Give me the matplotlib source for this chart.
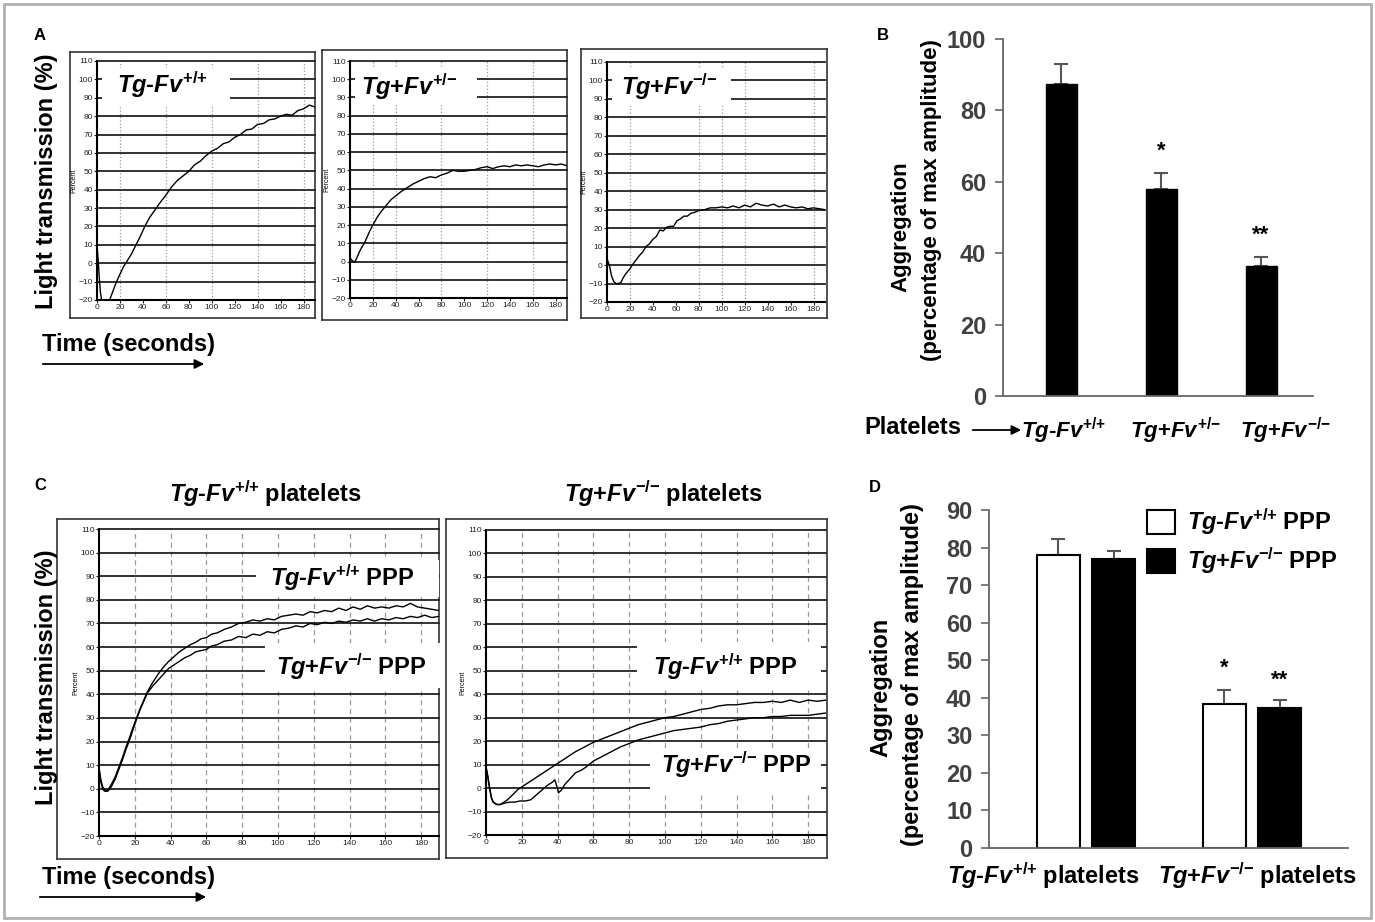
import numpy as np
import matplotlib.pyplot as plt
from matplotlib.patches import Rectangle, Patch, FancyArrowPatch
from matplotlib.transforms import ScaledTranslation

plt.rcParams["font.family"] = "Liberation Sans"
plt.rcParams["mathtext.fontset"] = "custom"
plt.rcParams["mathtext.it"] = "Liberation Sans:italic:bold"
plt.rcParams["mathtext.rm"] = "Liberation Sans:bold"
plt.rcParams["mathtext.bf"] = "Liberation Sans:bold"

W, H = 1375, 922

# genotype labels
WT = r"$Tg$-$Fv^{{+}/{+}}$"
HET = r"$Tg$+$Fv^{{+}/{-}}$"
KO = r"$Tg$+$Fv^{{-}/{-}}$"
GAP = r"$\;$"

# ---- panel A tracings (time s, % light transmission) ----
a1_t = [0, 1, 2, 3, 4, 5, 8, 11, 14, 17, 20, 23, 26, 30, 34, 38, 42, 46, 50,
        55, 60, 65, 70, 75, 80, 85, 90, 95, 100, 105, 110, 115, 120, 125, 130,
        135, 140, 145, 150, 155, 160, 165, 170, 175, 180, 185, 190]
a1_y = [10, 2, -8, -16, -20, -20, -20, -20, -15, -10, -6, -2, 1, 5, 10, 15, 20.5, 25, 28.5,
        33, 37, 41.5, 45, 47.5, 50, 53.5, 55.5, 58.5, 61, 62.5, 65, 66, 68.5, 70, 72.5,
        73, 75.5, 76, 78, 78.5, 80, 81, 80.5, 83, 84, 86, 85]

a2_t = [0, 2, 4, 6, 8, 10, 12.5, 15, 17.5, 20, 24, 28, 32, 36, 40, 45, 50, 55, 60,
        65, 70, 75, 80, 85, 90, 95, 100, 105, 110, 115, 120, 125, 130, 135, 140,
        145, 150, 155, 160, 165, 170, 175, 180, 185, 190]
a2_y = [2, 0.5, -0.5, 2, 5, 7.5, 10, 13.5, 17, 20, 24.5, 28, 31, 34, 36, 38.5, 40.5, 42.5, 44,
        45.5, 46.5, 46, 47.5, 48.5, 50, 49.5, 49.5, 50, 50.5, 51.5, 52, 51, 52, 52.5, 52,
        53, 52.5, 53, 52.5, 52, 53, 53.5, 53, 53.5, 52.5]

a3_t = [0, 2, 4, 6, 8, 10, 12, 14, 16, 18, 20, 22, 25, 28, 31, 34, 37, 40, 43, 46,
        49, 52, 55, 58, 61, 64, 67, 70, 73, 76, 80, 85, 90, 95, 100, 105, 110, 115,
        120, 125, 130, 135, 140, 145, 150, 155, 160, 165, 170, 175, 180, 185, 190]
a3_y = [3.5, 0, -6, -9, -10, -10, -9.5, -7, -5, -3.5, -2, 0, 2.5, 5, 7, 10, 11.5, 14, 15.5, 19,
        18.5, 20.5, 21, 21, 24, 25, 26.5, 26.5, 28, 28.5, 29.5, 30, 31, 31, 31.5, 31, 32, 31,
        32.5, 31.5, 33.5, 32.5, 32, 33, 31.5, 32.5, 31.5, 31, 31.5, 30.5, 31, 30.5, 30]

# ---- panel B ----
b_groups = [WT, HET, KO]
b_mean = [87.5, 58, 36.5]
b_err = [5.5, 4.5, 2.5]
b_stars = ["", "*", "**"]

# ---- panel C tracings ----
c1_t = [0, 1, 2, 3, 4, 5, 7, 9, 11, 13, 15, 17, 19, 21, 23, 25, 27, 30, 33, 36, 39,
        42, 45, 48, 51, 54, 57, 60, 63, 66, 70, 74, 78, 82, 86, 90, 94, 98, 102, 106,
        110, 114, 118, 122, 126, 130, 134, 138, 142, 146, 150, 154, 158, 162, 166,
        170, 174, 178, 182, 186, 190]
c1_wt_ppp = [8, 3, 0, -1, -1, -0.5, 2, 5, 9, 13, 17.5, 21.5, 26, 30, 34, 37.5, 41, 45, 48.5, 51.5, 54,
             56, 58, 59.5, 61, 62, 63.5, 64, 65.5, 66, 67.5, 68.5, 70, 70.5, 71.5, 71, 72, 71.5, 73, 73.5,
             74, 73.5, 75, 74.5, 75.5, 75, 76.5, 75.5, 77, 76, 77.5, 76.5, 77, 76.5, 77.5,
             77, 78.5, 77, 76.5, 76, 75.5]
c1_ko_ppp = [9, 4, 1, -0.5, -1, -1, 1, 4, 8, 12, 16.5, 20.5, 25, 29.5, 33.5, 37, 40.5, 43.5, 46, 48.5, 51,
             52.5, 54, 55.5, 56.5, 58, 58.5, 59, 60.5, 61, 62.5, 63, 64.5, 64, 65.5, 65, 66.5, 66, 67.5, 68,
             69, 68.5, 70, 69.5, 70.5, 70, 71, 70.5, 71.5, 71, 72, 71, 72, 71.5, 72.5,
             72, 73, 72.5, 73.5, 72.5, 73]

c2_wt_t = [0, 1, 2, 3, 4, 6, 8, 10, 12, 14, 16, 18, 20, 23, 26, 30, 34, 38, 42, 46, 50,
           55, 60, 65, 70, 75, 80, 85, 90, 95, 100, 105, 110, 115, 120, 125, 130, 135,
           140, 145, 150, 155, 160, 165, 170, 175, 180, 185, 190]
c2_wt_ppp = [9, 5, 0, -4, -6, -7, -7, -6, -5, -3.5, -2, -0.5, 0.5, 2, 3.5, 5.5, 7.5, 9.5, 11.5, 13.5, 15.5,
             17.5, 19.5, 21, 22.5, 24, 25.5, 27, 28, 29, 30, 30.5, 31.5, 32.5, 33.5, 34, 35, 35.5,
             35.5, 36, 36.5, 36.5, 37, 36.5, 37.5, 36.5, 37.5, 37, 37.5]
c2_ko_t = [0, 1, 2, 3, 4, 6, 8, 10, 13, 16, 19, 22, 25, 28, 31, 34, 37, 38.5, 39.5, 40.5,
           42, 44, 47, 50, 53, 56, 60, 65, 70, 75, 80, 85, 90, 95, 100, 105, 110, 115,
           120, 125, 130, 135, 140, 145, 150, 155, 160, 165, 170, 175, 180, 185, 190]
c2_ko_ppp = [9, 5, 0, -4, -6, -7, -7, -6.5, -6, -6, -5.5, -5.5, -5, -3, -1, 1, 2.5, 3.5, 1, -2,
             -1, 1.5, 4, 6.5, 7.5, 9, 11.5, 13.5, 15.5, 17.5, 19, 20.5, 21.5, 22.5, 23.5, 24.5, 25, 25.5,
             26, 27, 27.5, 28.5, 29, 29.5, 30, 30, 30.5, 30.5, 31, 31, 31, 31.5, 32]

# ---- panel D ----
d_groups = [WT + GAP + "platelets", KO + GAP + "platelets"]
d_wt_ppp = [78, 38.3]
d_wt_err = [4.3, 3.7]
d_ko_ppp = [77, 37.2]
d_ko_err = [2.2, 2.1]
d_stars_wt = ["", "*"]
d_stars_ko = ["", "**"]


def px_rect(l, t, r, b):
    return [l / W, 1 - b / H, (r - l) / W, (b - t) / H]


def ftext(x, y, s, **kw):
    fig.text(x / W, 1 - y / H, s, **kw)


def arrow(x0, x1, y):
    fig.add_artist(FancyArrowPatch((x0 / W, 1 - y / H), (x1 / W, 1 - y / H),
                                   transform=fig.transFigure, arrowstyle="-|>",
                                   mutation_scale=14, lw=1.3, color="black"))


def shift_label(lab, dx_px):
    lab.set_transform(lab.get_transform() + ScaledTranslation(dx_px / 100, 0, fig.dpi_scale_trans))


def trace_axes(frame, inner, vgrid, vls, vcol):
    fr = fig.add_axes(px_rect(*frame))
    fr.set_xticks([])
    fr.set_yticks([])
    for s in fr.spines.values():
        s.set_color("#333")
        s.set_linewidth(1.2)
    ax = fig.add_axes(px_rect(*inner))
    ax.patch.set_visible(False)
    ax.set_xlim(0, 190)
    ax.set_ylim(-20, 110)
    ax.set_xticks(range(0, 181, 20))
    ax.set_yticks(range(-20, 111, 10))
    ax.tick_params(labelsize=6, length=2, width=0.8, pad=1, colors="#222")
    for s in ["top", "right"]:
        ax.spines[s].set_visible(False)
    for s in ["left", "bottom"]:
        ax.spines[s].set_linewidth(1.5)
    for y in range(-20, 111, 10):
        ax.axhline(y, color="#222", lw=1.3, zorder=1, clip_on=False)
    for x in vgrid:
        ax.axvline(x, color=vcol, lw=0.9, ls=vls, zorder=0.5)
    ax.set_ylabel("Percent", fontsize=5, labelpad=1)
    return ax


def white_box(ax, x0, x1, y0, y1):
    ax.add_patch(Rectangle((x0, y0), x1 - x0, y1 - y0, facecolor="white",
                           edgecolor="none", zorder=2, clip_on=False))


fig = plt.figure(figsize=(W / 100, H / 100), dpi=100)
fig.add_artist(Rectangle((4 / W, 4 / H), 1 - 8 / W, 1 - 8 / H, transform=fig.transFigure,
                         fill=False, edgecolor="#b0b0b0", lw=2))

# ================= A =================
big = dict(fontsize=17, fontweight="bold")
ftext(40, 35, "A", fontsize=12, fontweight="bold", ha="center", va="center")
ftext(47, 181, "Light transmission (%)", rotation=90, ha="center", va="center", **big)
ftext(42, 345, "Time (seconds)", ha="left", va="center", **big)
arrow(40, 207, 364)

a_panels = [
    ((70, 52, 315, 318), (97, 61, 315, 300), [20, 60, 100, 140, 180], a1_t, a1_y, WT, 57, 97, 116),
    ((322, 50, 567, 320), (350, 61, 567, 298), [20, 40, 80, 120, 160], a2_t, a2_y, HET, 52, 96, 111),
    ((581, 49, 827, 318), (607, 62, 825, 302), [20, 80, 100, 120, 180], a3_t, a3_y, KO, 54, 96.5, 108),
]
for frame, inner, vg, t, y, lab, lx, ly, bx in a_panels:
    ax = trace_axes(frame, inner, vg, ":", "#999")
    white_box(ax, 4, bx, 86, 106)
    ax.plot(t, y, color="black", lw=1.0, zorder=3)
    ax.text(lx, ly, lab, fontsize=17, fontweight="bold", ha="center", va="center", zorder=4)

# ================= B =================
ftext(883, 35, "B", fontsize=12, fontweight="bold", ha="center", va="center")
axb = fig.add_axes(px_rect(1003, 39, 1313, 396))
xb = np.arange(len(b_groups))
axb.bar(xb, b_mean, width=0.31, color="black", edgecolor="black", zorder=2)
axb.errorbar(xb, b_mean, yerr=[np.zeros(len(b_err)), b_err], fmt="none", ecolor="#555",
             elinewidth=1.5, capsize=5, capthick=1.5, zorder=1)
for x, m, e, s in zip(xb, b_mean, b_err, b_stars):
    if s:
        axb.text(x, m + e + 6, s, ha="center", va="center", fontsize=16, fontweight="bold")
axb.set_xlim(-0.58, 2.52)
axb.set_ylim(0, 100)
axb.set_yticks(range(0, 101, 20))
axb.set_xticks(xb, b_groups)
axb.tick_params(axis="x", length=0, pad=14, labelsize=16)
axb.tick_params(axis="y", length=6, width=1.2, color="#666", labelsize=17,
                labelcolor="#404040", pad=6)
for lab in axb.get_xticklabels() + axb.get_yticklabels():
    lab.set_fontweight("bold")
for lab, dx in zip(axb.get_xticklabels(), [3, 14, 24]):
    shift_label(lab, dx)
for s in ["top", "right"]:
    axb.spines[s].set_visible(False)
for s in ["left", "bottom"]:
    axb.spines[s].set_color("#666")
    axb.spines[s].set_linewidth(1.3)
ftext(901, 227, "Aggregation", rotation=90, ha="center", va="center", fontsize=16, fontweight="bold")
ftext(932, 200, "(percentage of max amplitude)", rotation=90, ha="center", va="center",
      fontsize=16, fontweight="bold")
ftext(913, 428, "Platelets", ha="center", va="center", **big)
arrow(970, 1024, 430)

# ================= C =================
ftext(40, 485, "C", fontsize=12, fontweight="bold", ha="center", va="center")
ftext(47, 677, "Light transmission (%)", rotation=90, ha="center", va="center", **big)
ftext(42, 877, "Time (seconds)", ha="left", va="center", **big)
arrow(37, 209, 897)
ftext(265, 494, WT + GAP + "platelets", ha="center", va="center", **big)
ftext(663, 494, KO + GAP + "platelets", ha="center", va="center", **big)

axc1 = trace_axes((57, 519, 439, 859), (99, 529, 439, 836), range(20, 181, 20), (0, (4, 3)), "#999")
white_box(axc1, 88, 190, 81, 97)
white_box(axc1, 93, 192.5, 42.6, 61.7)
axc1.plot(c1_t, c1_wt_ppp, color="black", lw=1.0, zorder=3)
axc1.plot(c1_t, c1_ko_ppp, color="black", lw=1.0, zorder=3)
axc1.text(136, 89.3, WT + GAP + "PPP", fontsize=17, fontweight="bold", ha="center", va="center", zorder=4)
axc1.text(141, 51.6, KO + GAP + "PPP", fontsize=17, fontweight="bold", ha="center", va="center", zorder=4)

axc2 = trace_axes((446, 519, 827, 858), (486, 530, 826, 835), range(20, 181, 20), (0, (4, 3)), "#999")
white_box(axc2, 84.4, 187, 42.5, 62.4)
white_box(axc2, 91.7, 187, -2.5, 17)
axc2.plot(c2_wt_t, c2_wt_ppp, color="black", lw=1.0, zorder=3)
axc2.plot(c2_ko_t, c2_ko_ppp, color="black", lw=1.0, zorder=3)
axc2.text(133.6, 51.6, WT + GAP + "PPP", fontsize=17, fontweight="bold", ha="center", va="center", zorder=4)
axc2.text(140, 9.8, KO + GAP + "PPP", fontsize=17, fontweight="bold", ha="center", va="center", zorder=4)

# ================= D =================
ftext(875, 487, "D", fontsize=12, fontweight="bold", ha="center", va="center")
axd = fig.add_axes(px_rect(989, 510, 1348, 848))
xd = np.arange(len(d_groups))
off, bw = 0.166, 0.26
axd.bar(xd - off, d_wt_ppp, width=bw, color="white", edgecolor="black", lw=1.5, zorder=2)
axd.bar(xd + off, d_ko_ppp, width=bw, color="black", edgecolor="black", lw=1.5, zorder=2)
axd.errorbar(xd - off, d_wt_ppp, yerr=[np.zeros(2), d_wt_err], fmt="none", ecolor="#555",
             elinewidth=1.5, capsize=5, capthick=1.5, zorder=1)
axd.errorbar(xd + off, d_ko_ppp, yerr=[np.zeros(2), d_ko_err], fmt="none", ecolor="#555",
             elinewidth=1.5, capsize=5, capthick=1.5, zorder=1)
for x, m, e, s in zip(xd - off, d_wt_ppp, d_wt_err, d_stars_wt):
    if s:
        axd.text(x, m + e + 6, s, ha="center", va="center", fontsize=16, fontweight="bold")
for x, m, e, s in zip(xd + off, d_ko_ppp, d_ko_err, d_stars_ko):
    if s:
        axd.text(x, m + e + 5.5, s, ha="center", va="center", fontsize=16, fontweight="bold")
axd.set_xlim(-0.584, 1.578)
axd.set_ylim(0, 90)
axd.set_yticks(range(0, 91, 10))
axd.set_xticks(xd, d_groups)
axd.tick_params(axis="x", length=0, pad=9, labelsize=17)
axd.tick_params(axis="y", length=6, width=1.2, color="#666", labelsize=17,
                labelcolor="#404040", pad=6)
for lab in axd.get_xticklabels() + axd.get_yticklabels():
    lab.set_fontweight("bold")
for lab, dx in zip(axd.get_xticklabels(), [-43, 5]):
    shift_label(lab, dx)
for s in ["top", "right"]:
    axd.spines[s].set_visible(False)
for s in ["left", "bottom"]:
    axd.spines[s].set_color("#666")
    axd.spines[s].set_linewidth(1.3)
ftext(881, 687, "Aggregation", rotation=90, ha="center", va="center", fontsize=17, fontweight="bold")
ftext(913, 675, "(percentage of max amplitude)", rotation=90, ha="center", va="center",
      fontsize=17, fontweight="bold")
handles = [Patch(facecolor="white", edgecolor="black", lw=1.5),
           Patch(facecolor="black", edgecolor="black", lw=1.5)]
leg = fig.legend(handles, [WT + GAP + "PPP", KO + GAP + "PPP"], loc="upper left",
                 bbox_to_anchor=(1147 / W, 1 - 506 / H), frameon=False,
                 prop={"size": 17, "weight": "bold"}, handlelength=1.2, handleheight=1.2,
                 handletextpad=0.5, labelspacing=0.35, borderpad=0, borderaxespad=0)

fig.savefig("out.png", dpi=100)
